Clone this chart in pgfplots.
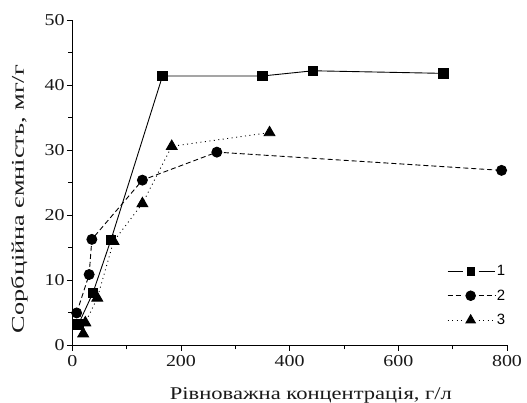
\documentclass[border=0pt]{standalone}
\usepackage{pgfplots}
\pgfplotsset{compat=1.18}
\usepackage{fontspec}
\setmainfont{Liberation Serif}
\setsansfont{Liberation Sans}
\begin{document}
\begin{tikzpicture}
\begin{axis}[
  scale only axis,
  width=434.7bp, height=325.5bp,
  xmin=0, xmax=800, ymin=0, ymax=50,
  axis lines=left,
  axis line style={-, line width=0.9pt},
  xtick={0,200,400,600,800},
  ytick={0,10,20,30,40,50},
  minor x tick num=1,
  minor y tick num=1,
  tick align=outside,
  major tick length=5.5bp,
  minor tick length=4bp,
  tick style={line width=0.9pt, black},
  /pgf/number format/assume math mode=true,
  ticklabel style={font=\fontsize{16.7}{16.7}\selectfont, text=black!90, inner sep=0pt},
  xticklabel={\scalebox{1.2}[1]{\pgfmathprintnumber{\tick}}},
  yticklabel={\scalebox{1.2}[1]{\pgfmathprintnumber{\tick}}},
  xticklabel style={anchor=north, yshift=-4bp},
  yticklabel style={anchor=east, xshift=-2bp},
  xlabel={\resizebox{282bp}{\height}{Рівноважна концентрація, г/л}},
  ylabel={\resizebox{268bp}{\height}{Сорбційна ємність, мг/г}},
  xlabel style={font=\fontsize{18}{18}\selectfont, text=black!90,
    at={(axis description cs:0.549,-0.166)}, anchor=base, inner sep=0pt},
  ylabel style={font=\fontsize{18}{18}\selectfont, text=black!90,
    at={(axis description cs:-0.1215,0.450)}, anchor=center, inner sep=0pt},
  clip=false,
  legend style={draw=none, fill=none, inner sep=0pt, at={(axis description cs:0.862,0.251)}, anchor=north west,
    font=\sffamily\fontsize{15}{17}\selectfont, row sep=9.5bp,
    nodes={inner sep=1.5bp}},
  legend cell align=left,
  legend image code/.code={
    \draw[#1, mark=none] (0bp,0bp) -- (15bp,0bp);
    \draw[#1, mark=none] (31bp,0bp) -- (47.3bp,0bp);
    \draw[#1, solid] plot coordinates {(23bp,0bp)};
  },
]
\addplot[black, line width=0.9pt, mark=square*, mark size=4.75bp, mark options={solid},
  legend image post style={mark size=3.7bp}]
  coordinates {(11,3.2) (38,8.1) (71,16.2) (166,41.4) (350,41.4) (443,42.2) (683,41.8)};
\addlegendentry{1}
\addplot[black, line width=0.9pt, dash pattern=on 5bp off 3bp, mark=*, mark size=5bp, mark options={solid},
  legend image post style={mark size=4.8bp}]
  coordinates {(8,5) (31,10.9) (36,16.3) (129,25.4) (266,29.7) (790,26.9)};
\addlegendentry{2}
\addplot[black, line width=0.9pt, dash pattern=on 1bp off 3.5bp, mark=triangle*, mark size=6.2bp, mark options={solid},
  legend image post style={mark size=5.4bp}]
  coordinates {(20,1.8) (24,3.5) (46,7.3) (76,16) (129,21.8) (183,30.6) (363,32.7)};
\addlegendentry{3}
\end{axis}
\pgfresetboundingbox
\path[use as bounding box] ([shift={(-72.3bp,-57.5bp)}]current axis.south west) rectangle ([shift={(20bp,20bp)}]current axis.north east);
\end{tikzpicture}
\end{document}
